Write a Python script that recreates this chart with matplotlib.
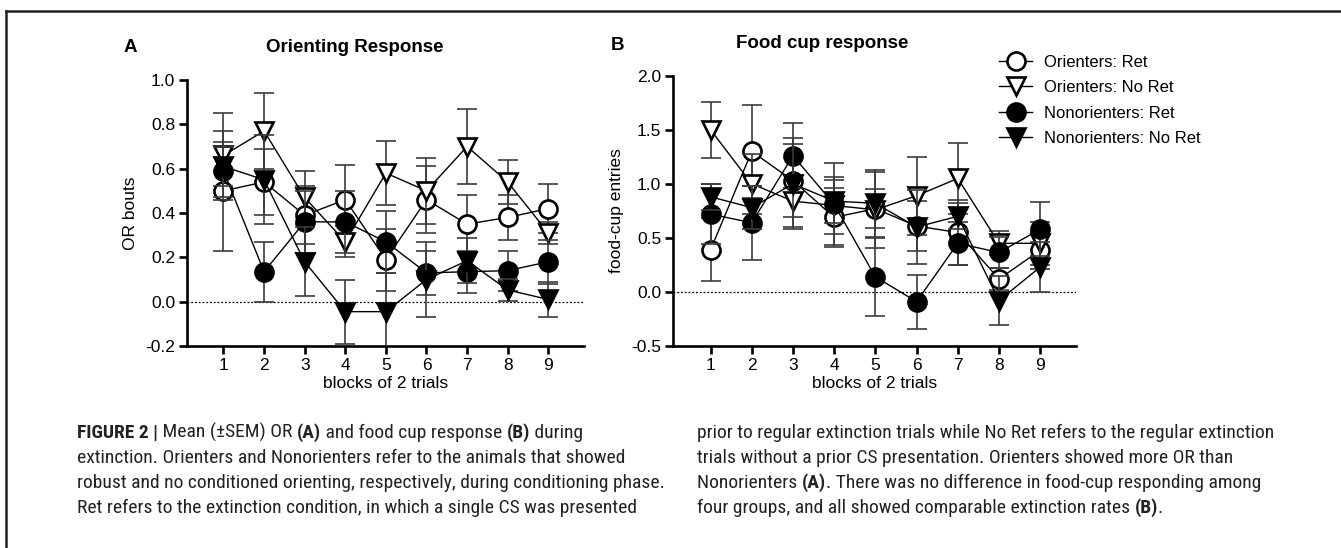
import matplotlib
matplotlib.use("Agg")
import matplotlib.pyplot as plt
from matplotlib import font_manager
from matplotlib.lines import Line2D
from matplotlib.text import Annotation


def pick_font(cands):
    for c in cands:
        try:
            font_manager.findfont(font_manager.FontProperties(family=c),
                                  fallback_to_default=False)
            return c
        except ValueError:
            pass
    return "DejaVu Sans"


MAIN_FONT = pick_font(["Liberation Sans", "Arial", "DejaVu Sans"])
CAP_FONT = pick_font(["Liberation Sans Narrow", "Roboto Condensed", "Liberation Sans"])
plt.rcParams["font.family"] = [MAIN_FONT, "DejaVu Sans"]

blocks = [1, 2, 3, 4, 5, 6, 7, 8, 9]
series_names = ["Orienters: Ret", "Orienters: No Ret",
                "Nonorienters: Ret", "Nonorienters: No Ret"]

# panel A - OR bouts (mean, SEM)
or_ori_ret = [0.50, 0.54, 0.39, 0.46, 0.19, 0.46, 0.35, 0.38, 0.42]
or_ori_ret_sem = [0.27, 0.15, 0.13, 0.155, 0.14, 0.15, 0.13, 0.10, 0.11]
or_ori_noret = [0.66, 0.77, 0.47, 0.27, 0.58, 0.50, 0.70, 0.54, 0.31]
or_ori_noret_sem = [0.19, 0.17, 0.12, 0.07, 0.145, 0.15, 0.17, 0.10, 0.05]
or_non_ret = [0.59, 0.135, 0.36, 0.36, 0.27, 0.13, 0.135, 0.14, 0.18]
or_non_ret_sem = [0.13, 0.135, 0.14, 0.14, 0.14, 0.10, 0.095, 0.09, 0.10]
or_non_noret = [0.61, 0.55, 0.18, -0.045, -0.045, 0.10, 0.185, 0.053, 0.01]
or_non_noret_sem = [0.09, 0.20, 0.155, 0.145, 0.175, 0.17, 0.10, 0.05, 0.08]

# panel B - food-cup entries (mean, SEM)
fc_ori_ret = [0.39, 1.30, 1.03, 0.69, 0.77, 0.61, 0.55, 0.12, 0.385]
fc_ori_ret_sem = [0.29, 0.43, 0.34, 0.27, 0.18, 0.23, 0.30, 0.10, 0.17]
fc_ori_noret = [1.50, 1.00, 0.84, 0.80, 0.76, 0.89, 1.05, 0.45, 0.45]
fc_ori_noret_sem = [0.26, 0.28, 0.24, 0.26, 0.35, 0.36, 0.33, 0.11, 0.20]
fc_non_ret = [0.72, 0.64, 1.26, 0.81, 0.14, -0.09, 0.45, 0.365, 0.58]
fc_non_ret_sem = [0.28, 0.34, 0.30, 0.38, 0.36, 0.25, 0.20, 0.14, 0.25]
fc_non_noret = [0.88, 0.78, 1.00, 0.84, 0.82, 0.60, 0.70, -0.08, 0.23]
fc_non_noret_sem = [0.12, 0.20, 0.42, 0.20, 0.31, 0.34, 0.12, 0.23, 0.23]

markers = ["o", "v", "o", "v"]
faces = ["white", "white", "black", "black"]

fig = plt.figure(figsize=(13.41, 5.48), dpi=100)
axA = fig.add_axes([0.1394, 0.3686, 0.2961, 0.4854])
axB = fig.add_axes([0.5019, 0.3686, 0.3005, 0.4932])


def draw_panel(ax, means, sems, ylim, yticks, ylabel):
    for i, (m, s) in enumerate(zip(means, sems)):
        ax.errorbar(blocks, m, yerr=s, fmt="none", ecolor="#3c3c3c",
                    elinewidth=1.2, capsize=7, capthick=1.2, zorder=2 + i)
        ax.plot(blocks, m, color="black", lw=1.0, marker=markers[i],
                ms=13, mfc=faces[i], mec="black", mew=1.9, zorder=2.5 + i)
    ax.axhline(0, color="black", lw=0.9, ls=(0, (1.5, 1.5)), zorder=1)
    ax.set_xlim(0.1, 9.88)
    ax.set_ylim(*ylim)
    ax.set_yticks(yticks)
    ax.set_yticklabels(["%.1f" % t for t in yticks])
    ax.set_xticks(blocks)
    for sp in ["top", "right"]:
        ax.spines[sp].set_visible(False)
    for sp in ["left", "bottom"]:
        ax.spines[sp].set_linewidth(1.9)
    ax.tick_params(width=1.9, length=5.5, labelsize=12.5, pad=3)
    ax.set_xlabel("blocks of 2 trials", fontsize=12.5, labelpad=2)
    ax.set_ylabel(ylabel, fontsize=12.5, labelpad=5)


draw_panel(axA, [or_ori_ret, or_ori_noret, or_non_ret, or_non_noret],
           [or_ori_ret_sem, or_ori_noret_sem, or_non_ret_sem, or_non_noret_sem],
           (-0.2, 1.0), [-0.2, 0.0, 0.2, 0.4, 0.6, 0.8, 1.0], "OR bouts")
draw_panel(axB, [fc_ori_ret, fc_ori_noret, fc_non_ret, fc_non_noret],
           [fc_ori_ret_sem, fc_ori_noret_sem, fc_non_ret_sem, fc_non_noret_sem],
           (-0.5, 2.0), [-0.5, 0.0, 0.5, 1.0, 1.5, 2.0], "food-cup entries")
axB.set_xlim(0.09, 9.87)

# panel letters and titles
fig.text(130 / 1341, 1 - 47 / 548, "A", fontsize=13.5, fontweight="bold",
         ha="center", va="center")
fig.text(355 / 1341, 1 - 47 / 548, "Orienting Response", fontsize=13.5,
         fontweight="bold", ha="center", va="center")
fig.text(617 / 1341, 1 - 45 / 548, "B", fontsize=13.5, fontweight="bold",
         ha="center", va="center")
fig.text(822 / 1341, 1 - 44 / 548, "Food cup response", fontsize=13.5,
         fontweight="bold", ha="center", va="center")

# legend
handles = [Line2D([], [], color="black", lw=1.0, marker=markers[i], ms=13,
                  mfc=faces[i], mec="black", mew=1.9) for i in range(4)]
fig.legend(handles, series_names, loc="upper left",
           bbox_to_anchor=(999 / 1341, 1 - 55 / 548), frameon=False,
           fontsize=12, handlelength=2.0, handletextpad=0.7,
           labelspacing=0.62, borderpad=0, borderaxespad=0)

# frame lines
fig.add_artist(Line2D([6 / 1341, 1], [1 - 11 / 548, 1 - 11 / 548],
                      color="#222222", lw=1.8))
fig.add_artist(Line2D([6 / 1341, 6 / 1341], [0, 1 - 11 / 548],
                      color="#222222", lw=1.8))

# caption, two columns with bold pieces
col1 = [
    [("FIGURE 2 |", True), (" Mean (\u00b1SEM) OR ", False), ("(A)", True),
     (" and food cup response ", False), ("(B)", True), (" during", False)],
    [("extinction. Orienters and Nonorienters refer to the animals that showed", False)],
    [("robust and no conditioned orienting, respectively, during conditioning phase.", False)],
    [("Ret refers to the extinction condition, in which a single CS was presented", False)],
]
col2 = [
    [("prior to regular extinction trials while No Ret refers to the regular extinction", False)],
    [("trials without a prior CS presentation. Orienters showed more OR than", False)],
    [("Nonorienters ", False), ("(A)", True),
     (". There was no difference in food-cup responding among", False)],
    [("four groups, and all showed comparable extinction rates ", False),
     ("(B)", True), (".", False)],
]
line_y = [433, 458, 483, 508]


def caption_line(x, y, pieces):
    last = None
    for txt, bold in pieces:
        kw = dict(fontsize=14, family=[CAP_FONT, "DejaVu Sans"],
                  fontweight="bold" if bold else "normal", color="#222222")
        if last is None:
            last = fig.text(x / 1341, 1 - y / 548, txt, ha="left",
                            va="center", **kw)
        else:
            last = fig.add_artist(Annotation(
                txt, xy=(1, 0), xycoords=last, va="bottom", ha="left",
                annotation_clip=False, **kw))


for yy, pieces in zip(line_y, col1):
    caption_line(77, yy, pieces)
for yy, pieces in zip(line_y, col2):
    caption_line(697, yy, pieces)

fig.savefig("out.png", dpi=100)
